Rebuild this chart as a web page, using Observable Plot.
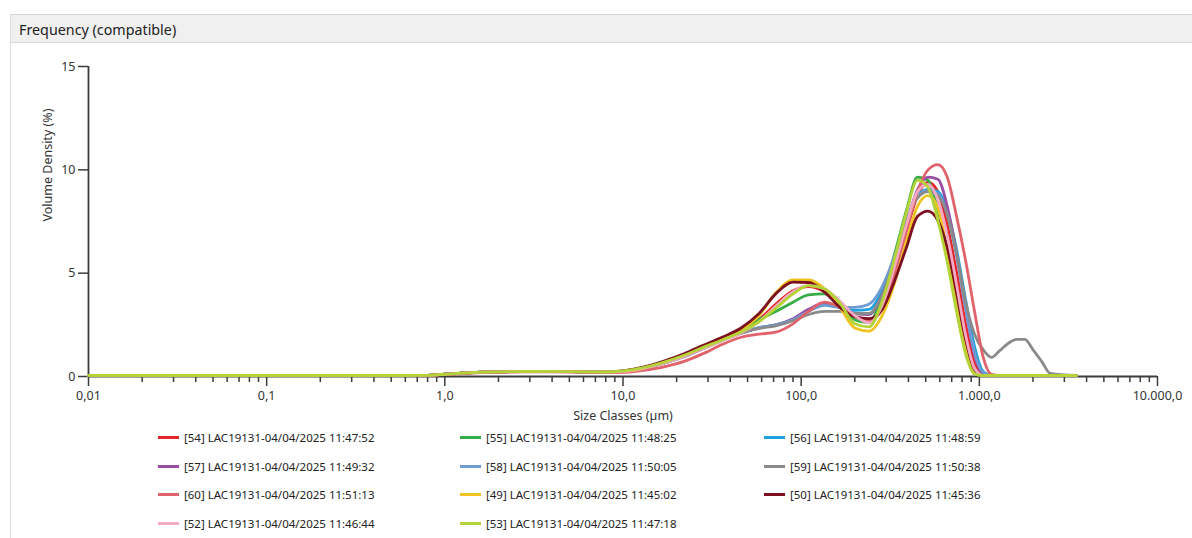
<!DOCTYPE html>
<html>
<head>
<meta charset="utf-8">
<script src="https://cdn.jsdelivr.net/npm/d3@7"></script>
<script src="https://cdn.jsdelivr.net/npm/@observablehq/plot@0.6"></script>
<style>
  body { margin: 0; background: #fff; font-family: "Noto Sans", sans-serif; }
  #page { position: relative; width: 1192px; height: 538px; overflow: hidden; }
  #panel { position: absolute; left: 10px; top: 14px; width: 1182px; height: 524px; border-left: 1px solid #dcdcdc; }
  #header { position: absolute; left: 0; top: 0; right: 0; height: 27px; background: #f0f0f0;
            border-top: 1px solid #d6d6d6; border-bottom: 1px solid #d6d6d6;
            font-size: 14.3px; color: #222; line-height: 29px; padding-left: 8px; }
  #chart { position: absolute; left: 0; top: 42px; }
  .item { position: absolute; font-size: 11.5px; color: #222; display: flex; align-items: center; white-space: nowrap; height: 16px; }
  .sw { width: 21px; height: 3px; margin-right: 5px; }
</style>
</head>
<body>
<div id="page">
  <div id="panel"><div id="header">Frequency (compatible)</div></div>
  <div id="chart"></div>
  <div id="legend"></div>
</div>
<script>
// Size classes (µm) shared by every measurement
const sizes = [0.01, 0.5, 0.8, 1, 1.5, 2.5, 4, 6, 8,
  10, 13, 17, 22, 28, 36, 46, 58, 72, 90,
  110, 135, 165, 200, 240, 285, 335, 390, 450, 515,
  585, 660, 745, 840, 940, 1050, 1170, 1300, 1450, 1620,
  1800, 2000, 2250, 2500, 3500];

// Volume density (%) per measurement
const s54 = [0, 0, 0.01, 0.06, 0.15, 0.19, 0.2, 0.18, 0.17,
  0.2, 0.36, 0.62, 0.95, 1.33, 1.72, 2.1, 2.7, 3.45, 4.1,
  4.3, 4.05, 3.4, 2.85, 2.65, 3.3, 5.0, 7.0, 8.7, 9.35,
  8.9, 7.3, 5.0, 2.4, 0.6, 0.05, 0, 0, 0, 0,
  0, 0, 0, 0, 0];
const s55 = [0, 0, 0.01, 0.06, 0.15, 0.19, 0.2, 0.18, 0.17,
  0.22, 0.38, 0.65, 0.98, 1.35, 1.75, 2.2, 2.7, 3.1, 3.55,
  3.9, 3.95, 3.45, 2.7, 2.55, 3.9, 5.9, 8.0, 9.6, 9.45,
  8.0, 6.0, 3.6, 1.3, 0.15, 0, 0, 0, 0, 0,
  0, 0, 0, 0, 0];
const s56 = [0, 0, 0.01, 0.06, 0.15, 0.19, 0.2, 0.18, 0.17,
  0.2, 0.35, 0.6, 0.92, 1.3, 1.7, 2.05, 2.3, 2.45, 2.7,
  3.15, 3.45, 3.3, 3.15, 3.2, 4.1, 5.6, 7.4, 8.7, 9.0,
  8.9, 8.0, 6.1, 3.6, 1.4, 0.2, 0, 0, 0, 0,
  0, 0, 0, 0, 0];
const s57 = [0, 0, 0.01, 0.06, 0.15, 0.19, 0.2, 0.18, 0.17,
  0.2, 0.35, 0.6, 0.92, 1.3, 1.7, 2.05, 2.3, 2.45, 2.75,
  3.2, 3.5, 3.3, 3.0, 2.95, 3.9, 5.5, 7.4, 9.0, 9.6,
  9.5, 8.2, 5.9, 3.2, 1.0, 0.1, 0, 0, 0, 0,
  0, 0, 0, 0, 0];
const s58 = [0, 0, 0.01, 0.06, 0.15, 0.19, 0.2, 0.18, 0.17,
  0.2, 0.35, 0.6, 0.92, 1.3, 1.72, 2.08, 2.32, 2.45, 2.7,
  3.1, 3.4, 3.3, 3.3, 3.45, 4.3, 5.8, 7.5, 8.7, 8.95,
  8.8, 7.8, 5.8, 3.2, 1.1, 0.15, 0, 0, 0, 0,
  0, 0, 0, 0, 0];
const s59 = [0, 0, 0.01, 0.06, 0.15, 0.19, 0.2, 0.18, 0.17,
  0.2, 0.35, 0.6, 0.92, 1.3, 1.7, 2.05, 2.28, 2.4, 2.65,
  2.95, 3.1, 3.1, 3.0, 3.0, 3.9, 5.6, 7.4, 8.6, 8.9,
  8.7, 7.8, 5.9, 3.5, 2.0, 1.25, 0.88, 1.2, 1.55, 1.75,
  1.75, 1.25, 0.65, 0.1, 0];
const s60 = [0, 0, 0.01, 0.05, 0.13, 0.17, 0.18, 0.16, 0.14,
  0.15, 0.25, 0.42, 0.68, 1.05, 1.5, 1.85, 2.0, 2.1, 2.5,
  3.1, 3.55, 3.3, 2.85, 2.65, 3.2, 4.9, 7.0, 8.9, 9.95,
  10.2, 9.6, 7.7, 5.5, 3.1, 0.9, 0.05, 0, 0, 0,
  0, 0, 0, 0, 0];
const s49 = [0, 0, 0.01, 0.06, 0.15, 0.19, 0.2, 0.18, 0.17,
  0.2, 0.35, 0.62, 0.95, 1.35, 1.75, 2.2, 2.9, 4.0, 4.62,
  4.62, 4.2, 3.3, 2.3, 2.15, 2.9, 4.5, 6.5, 8.2, 8.7,
  8.1, 6.0, 3.4, 1.2, 0.1, 0, 0, 0, 0, 0,
  0, 0, 0, 0, 0];
const s50 = [0, 0, 0.01, 0.06, 0.15, 0.19, 0.2, 0.18, 0.17,
  0.22, 0.4, 0.7, 1.05, 1.45, 1.85, 2.3, 3.0, 3.95, 4.52,
  4.5, 4.05, 3.3, 2.85, 2.75, 3.2, 4.6, 6.2, 7.7, 7.95,
  7.5, 6.2, 4.0, 1.7, 0.3, 0, 0, 0, 0, 0,
  0, 0, 0, 0, 0];
const s52 = [0, 0, 0.01, 0.06, 0.15, 0.19, 0.2, 0.18, 0.17,
  0.2, 0.35, 0.6, 0.92, 1.3, 1.68, 2.05, 2.6, 3.35, 4.05,
  4.35, 4.2, 3.6, 2.9, 2.55, 3.4, 5.3, 7.3, 8.9, 9.25,
  8.5, 6.8, 4.4, 1.9, 0.35, 0, 0, 0, 0, 0,
  0, 0, 0, 0, 0];
const s53 = [0, 0, 0.01, 0.06, 0.15, 0.19, 0.2, 0.18, 0.17,
  0.22, 0.38, 0.65, 0.98, 1.35, 1.72, 2.1, 2.6, 3.25, 3.95,
  4.35, 4.2, 3.5, 2.5, 2.35, 3.6, 5.7, 7.9, 9.45, 9.1,
  7.5, 5.5, 3.1, 1.0, 0.08, 0, 0, 0, 0, 0,
  0, 0, 0, 0, 0];

const seriesNames = [
  "[54] LAC19131-04/04/2025 11:47:52",
  "[55] LAC19131-04/04/2025 11:48:25",
  "[56] LAC19131-04/04/2025 11:48:59",
  "[57] LAC19131-04/04/2025 11:49:32",
  "[58] LAC19131-04/04/2025 11:50:05",
  "[59] LAC19131-04/04/2025 11:50:38",
  "[60] LAC19131-04/04/2025 11:51:13",
  "[49] LAC19131-04/04/2025 11:45:02",
  "[50] LAC19131-04/04/2025 11:45:36",
  "[52] LAC19131-04/04/2025 11:46:44",
  "[53] LAC19131-04/04/2025 11:47:18"
];
const seriesColors = ["#e3262b", "#37ad47", "#1fa3dd", "#9a4da5", "#6f9bd3", "#8a8a8a",
                      "#e0636c", "#efc421", "#7c1020", "#f4aac3", "#b3d337"];
const seriesValues = [s54, s55, s56, s57, s58, s59, s60, s49, s50, s52, s53];

// Axis ticks
const xTicks = [0.01, 0.1, 1, 10, 100, 1000, 10000];
const xTickLabels = ["0,01", "0,1", "1,0", "10,0", "100,0", "1.000,0", "10.000,0"];
const yTicks = [0, 5, 10, 15];

const minorTicks = xTicks.slice(0, -1).flatMap(d => [2, 3, 4, 5, 6, 7, 8, 9].map(k => d * k));

const rows = seriesNames.flatMap((name, i) =>
  sizes.map((x, j) => ({ name, x, y: seriesValues[i][j] })));

const axisColor = "#3c3c3c";

const chart = Plot.plot({
  width: 1192,
  height: 386,
  marginLeft: 88,
  marginRight: 35,
  marginTop: 24,
  marginBottom: 52,
  style: { fontFamily: "Noto Sans, sans-serif", fontSize: "12.5px", color: "#333", background: "transparent" },
  x: { type: "log", domain: [0.01, 10000] },
  y: { domain: [0, 15] },
  color: { domain: seriesNames, range: seriesColors },
  marks: [
    Plot.axisX(minorTicks, { tickSize: 6, tickFormat: () => "", stroke: axisColor, strokeWidth: 1.5, label: null }),
    Plot.axisX(xTicks, { tickSize: 10, tickPadding: 5, stroke: axisColor, strokeWidth: 1.5,
      tickFormat: d => xTickLabels[xTicks.indexOf(d)], label: null }),
    Plot.axisY(yTicks, { tickSize: 10, tickPadding: 3, stroke: axisColor, strokeWidth: 1.5, label: null }),
    Plot.ruleX([0.01], { y1: 0, y2: 15, stroke: axisColor, strokeWidth: 1.8 }),
    Plot.ruleY([0], { stroke: axisColor, strokeWidth: 1.8 }),
    Plot.line(rows, { x: "x", y: "y", z: "name", stroke: "name", strokeWidth: 2.8, dy: -1,
      curve: "monotone-x", strokeLinejoin: "round" }),
    Plot.text(["Volume Density (%)"], { frameAnchor: "left", rotate: -90, dx: -41, fontSize: 12.5, fill: "#333" }),
    Plot.text(["Size Classes (µm)"], { frameAnchor: "bottom", dy: 43, fontSize: 12.5, fill: "#333" })
  ]
});
document.getElementById("chart").appendChild(chart);

// Legend: three columns, row-major order
const legend = document.getElementById("legend");
const colX = [158, 460, 764];
const rowY = [437, 466, 494, 523];
seriesNames.forEach((name, i) => {
  const item = document.createElement("div");
  item.className = "item";
  item.style.left = colX[i % 3] + "px";
  item.style.top = (rowY[Math.floor(i / 3)] - 8) + "px";
  const sw = document.createElement("span");
  sw.className = "sw";
  sw.style.background = seriesColors[i];
  const label = document.createElement("span");
  label.textContent = name;
  item.appendChild(sw);
  item.appendChild(label);
  legend.appendChild(item);
});
</script>
</body>
</html>
